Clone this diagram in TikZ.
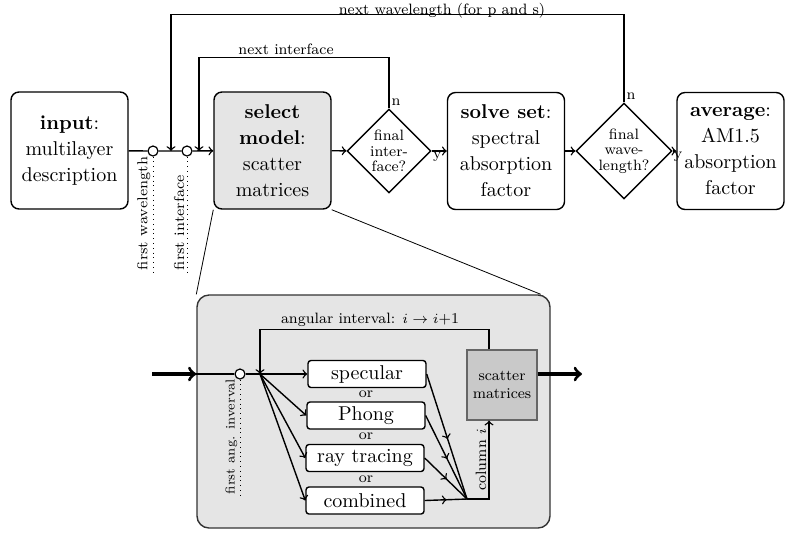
\documentclass[tikz,border=0pt]{standalone}
\usepackage{tikz}
\usetikzlibrary{shapes.geometric}
\usetikzlibrary{decorations.markings}
\usetikzlibrary{calc}

\definecolor{panelgray}{gray}{0.9}
\definecolor{matgray}{gray}{0.79}

\tikzset{
  block/.style={draw,line width=0.7pt,rounded corners=4pt,align=center,
    minimum width=58.5pt,minimum height=58.5pt,inner sep=1pt,
    font=\fontsize{10}{13}\selectfont},
  decide/.style={draw,diamond,aspect=1,line width=0.7pt,align=center,
    inner sep=0pt,minimum size=42pt,font=\fontsize{7.5}{7.8}\selectfont},
  lbl/.style={font=\fontsize{7.5}{9}\selectfont,inner sep=1pt},
  ring/.style={draw,circle,line width=0.6pt,inner sep=0pt,minimum size=5pt,fill=white},
  choice/.style={draw,line width=0.7pt,rounded corners=1.5pt,fill=white,
    minimum width=59pt,minimum height=13.5pt,inner sep=0pt,
    font=\fontsize{10}{12}\selectfont},
  tag/.style={font=\fontsize{7.2}{9}\selectfont,inner sep=1pt,rotate=90,anchor=south west},
  bigarrow/.style={->,line width=1.6pt},
  midarrow/.style={postaction={decorate},
    decoration={markings,mark=at position 0.52 with {\arrow{>}}}},
}

\begin{document}
\begin{tikzpicture}[x=0.5pt,y=-0.5pt,line width=0.7pt]
\useasboundingbox (0,0) rectangle (785,532);

% main chain
\node[block] (input) at (69.5,150.5) {\textbf{input}:\\multilayer\\description};
\node[block,fill=panelgray] (select) at (272.5,150.5) {\textbf{select}\\\textbf{model}:\\scatter\\matrices};
\node[decide] (finint) at (389,151) {final\\inter-\\face?};
\node[block] (solve) at (506,151) {\textbf{solve set}:\\spectral\\absorption\\factor};
\node[decide] (finwav) at (624,151) {final\\wave-\\length?};
\node[block,minimum width=53.5pt] (avg) at (730.5,151) {\textbf{average}:\\AM1.5\\absorption\\factor};

\node[ring] (wl0) at (153,151) {};
\node[ring] (if0) at (187,151) {};
\coordinate (wljoin) at (171,151);
\coordinate (ifjoin) at (199,151);

\draw[->] (input) -- (wl0) -- (if0) -- (select);
\draw[->] (select) -- (finint);
\draw[->] (finint) -- (solve);
\draw[->] (solve) -- (finwav);
\draw[->] (finwav) -- (avg);

\draw[->] (finwav.north) -- ++(0,-88) -| (wljoin);
\draw[->] (finint.north) -- ++(0,-51) -| (ifjoin);
\node[lbl] (wllbl) at (442,11) {next wavelength (for p and s)};
\node[lbl] (iflbl) at (286,49) {next interface};

\node[lbl,anchor=south west] (n1) at (finint.north) {n};
\node[lbl,anchor=south west] (n2) at (finwav.north) {n};
\node[lbl,anchor=north west,inner sep=0.3pt] (y1) at (finint.east) {y};
\node[lbl,anchor=north west,inner sep=0.3pt] (y2) at (finwav.east) {y};

\node[tag] (wltag) at (153,273) {first wavelength};
\node[tag] (iftag) at (187,273) {first interface};
\draw[dotted,line width=0.4pt] (wl0) -- (wltag.south west);
\draw[dotted,line width=0.4pt] (if0) -- (iftag.south west);

% zoomed detail of the model selection
\node[draw=black!80,fill=panelgray,rounded corners=6pt,minimum width=176.5pt,
  minimum height=116.5pt] (panel) at (373.5,411.5) {};
\draw[line width=0.4pt] (select.south west) -- (panel.north west);
\draw[line width=0.4pt] (select.south east) -- ($(panel.north east)+(-10,0)$);

\node[ring] (ang0) at (240,374) {};
\coordinate (split) at (260,374);
\coordinate (inleft) at (152,374);
\coordinate (pin) at (panel.west |- ang0);

\node[choice] (spec) at (367,374) {specular};
\node[choice] (phong) at (366,415.5) {Phong};
\node[choice] (ray) at (365,458) {ray tracing};
\node[choice] (comb) at (365,500.5) {combined};
\node[lbl] (or1) at (366,394) {or};
\node[lbl] (or2) at (366,436.5) {or};
\node[lbl] (or3) at (366,479) {or};

\node[draw=black!60,fill=matgray,line width=0.6pt,minimum width=35pt,minimum height=35pt,
  align=center,lbl] (smat) at (502,385) {scatter\\matrices};
\coordinate (merge) at (467,499);
\coordinate (pout) at (smat.east |- ang0);
\coordinate (outright) at (582,374);

\draw[bigarrow] (inleft) -- (pin);
\draw (pin) -- (ang0);
\draw[->] (ang0) -- (spec);
\foreach \b in {phong,ray,comb}
  \draw[->] (split) -- (\b.west);
\foreach \b in {spec,phong,ray,comb}
  \draw[midarrow] (\b.east) -- (merge);
\draw[->] (merge) -| ([xshift=-6.5pt]smat.south)
  node[pos=0.75,lbl,rotate=90,anchor=south] (col) {column $i$};
\draw[->] ([xshift=-6.5pt]smat.north) -- ++(0,-20) -| (split);
\node[lbl] (anglbl) at (370,320) {angular interval: $i \rightarrow i$+1};
\draw[bigarrow] (pout) -- (outright);

\node[tag,font=\fontsize{6.5}{8}\selectfont] (angtag) at (240,497) {first ang. inverval};
\draw[dotted,line width=0.4pt] (ang0) -- (angtag.south west);
\end{tikzpicture}
\end{document}
